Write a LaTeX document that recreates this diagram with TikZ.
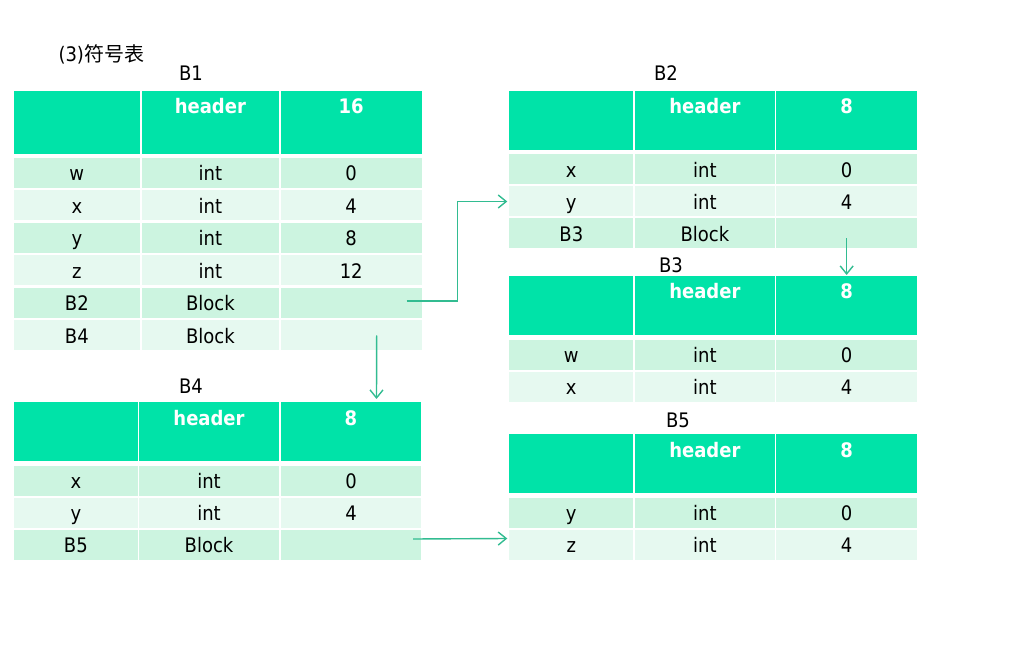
\documentclass[tikz,border=0pt]{standalone}
\usepackage{fontspec}
\setmainfont{DejaVu Sans Condensed}
\newfontfamily\cjk{Noto Sans CJK SC}
\usetikzlibrary{positioning,arrows.meta}

\definecolor{hdgreen}{RGB}{0,227,168}
\definecolor{rowdark}{RGB}{204,244,224}
\definecolor{rowlight}{RGB}{230,249,240}
\definecolor{linkgreen}{RGB}{50,188,145}

\tikzset{
  cell/.style={anchor=north west, inner sep=0pt, outer sep=0pt, minimum height=30pt,
    text height=16.5pt, text depth=1pt, font=\fontsize{20}{23}\selectfont},
  hd/.style={cell, fill=hdgreen, text=white, font=\fontsize{20}{23}\selectfont\bfseries,
    text height=23pt, text depth=36pt},
  tabname/.style={font=\fontsize{20}{23}\selectfont},
  link/.style={draw=linkgreen, line width=1.4pt, -{Straight Barb[length=8pt,width=13pt]}}
}

\begin{document}
\begin{tikzpicture}[x=1pt, y=-1pt]
        \useasboundingbox (0,0) rectangle (1010,660);
        \node[tabname, anchor=west] (title) at (55,54) {(3){\cjk 符号表}};

        % B1
        \node[tabname] (b1name) at (191,73) {B1};
        \node[hd, minimum width=125.7pt, text depth=40pt] (b1h1) at (14,91) {};
        \node[hd, minimum width=136.7pt, text depth=40pt, right=2.3pt of b1h1] (b1h2) {header};
        \node[hd, minimum width=141pt, text depth=40pt, right=2pt of b1h2] (b1h3) {16};
        \foreach \f/\a/\b/\c [count=\i] in {rowdark/w/int/0, rowlight/x/int/4, rowdark/y/int/8,
            rowlight/z/int/12, rowdark/B2/Block/{}, rowlight/B4/Block/{}} {
          \node[cell, fill=\f, minimum width=125.7pt] (b1-\i-1) at (14,{158+32.5*(\i-1)}) {\a};
          \node[cell, fill=\f, minimum width=136.7pt, right=2.3pt of b1-\i-1] (b1-\i-2) {\b};
          \node[cell, fill=\f, minimum width=141pt, right=2pt of b1-\i-2] (b1-\i-3) {\c};
        }

        % B4
        \node[tabname] (b4name) at (191,386) {B4};
        \node[hd, minimum width=123.7pt] (b4h1) at (14,402) {};
        \node[hd, minimum width=140pt, right=1.3pt of b4h1] (b4h2) {header};
        \node[hd, minimum width=140pt, right=2pt of b4h2] (b4h3) {8};
        \foreach \f/\a/\b/\c [count=\i] in {rowdark/x/int/0, rowlight/y/int/4, rowdark/B5/Block/{}} {
          \node[cell, fill=\f, minimum width=123.7pt] (b4-\i-1) at (14,{466+32*(\i-1)}) {\a};
          \node[cell, fill=\f, minimum width=140pt, right=1.3pt of b4-\i-1] (b4-\i-2) {\b};
          \node[cell, fill=\f, minimum width=140pt, right=2pt of b4-\i-2] (b4-\i-3) {\c};
        }

        % B2
        \node[tabname] (b2name) at (666,73) {B2};
        \node[hd, minimum width=124pt] (b2h1) at (509.3,91) {};
        \node[hd, minimum width=139.7pt, right=1.7pt of b2h1] (b2h2) {header};
        \node[hd, minimum width=141.3pt, right=1.3pt of b2h2] (b2h3) {8};
        \foreach \f/\a/\b/\c [count=\i] in {rowdark/x/int/0, rowlight/y/int/4, rowdark/B3/Block/{}} {
          \node[cell, fill=\f, minimum width=124pt] (b2-\i-1) at (509.3,{154.5+32*(\i-1)}) {\a};
          \node[cell, fill=\f, minimum width=139.7pt, right=1.7pt of b2-\i-1] (b2-\i-2) {\b};
          \node[cell, fill=\f, minimum width=141.3pt, right=1.3pt of b2-\i-2] (b2-\i-3) {\c};
        }

        % B3
        \node[tabname] (b3name) at (671,265) {B3};
        \node[hd, minimum width=124pt] (b3h1) at (509.3,276) {};
        \node[hd, minimum width=139.7pt, right=1.7pt of b3h1] (b3h2) {header};
        \node[hd, minimum width=141.3pt, right=1.3pt of b3h2] (b3h3) {8};
        \foreach \f/\a/\b/\c [count=\i] in {rowdark/w/int/0, rowlight/x/int/4} {
          \node[cell, fill=\f, minimum width=124pt] (b3-\i-1) at (509.3,{340+32*(\i-1)}) {\a};
          \node[cell, fill=\f, minimum width=139.7pt, right=1.7pt of b3-\i-1] (b3-\i-2) {\b};
          \node[cell, fill=\f, minimum width=141.3pt, right=1.3pt of b3-\i-2] (b3-\i-3) {\c};
        }

        % B5
        \node[tabname] (b5name) at (678,420) {B5};
        \node[hd, minimum width=124pt] (b5h1) at (509.3,434) {};
        \node[hd, minimum width=139.7pt, right=1.7pt of b5h1] (b5h2) {header};
        \node[hd, minimum width=141.3pt, right=1.3pt of b5h2] (b5h3) {8};
        \foreach \f/\a/\b/\c [count=\i] in {rowdark/y/int/0, rowlight/z/int/4} {
          \node[cell, fill=\f, minimum width=124pt] (b5-\i-1) at (509.3,{497.5+32*(\i-1)}) {\a};
          \node[cell, fill=\f, minimum width=139.7pt, right=1.7pt of b5-\i-1] (b5-\i-2) {\b};
          \node[cell, fill=\f, minimum width=141.3pt, right=1.3pt of b5-\i-2] (b5-\i-3) {\c};
        }

        % Links
        \draw[link] ([xshift=-15pt,yshift=2pt]b1-5-3.east) -- ++(51,0) |- ([xshift=-2pt]b2-2-1.west);
        \draw[link] ([yshift=-5pt]b2-3-3.center) -- ([yshift=1pt]b3h3.north);
        \draw[link] ([xshift=25.5pt]b1-6-3.center) -- ([xshift=25.5pt,yshift=3pt]b4h3.north);
        \draw[link] ([xshift=-8pt,yshift=6pt]b4-3-3.east) -- ([xshift=-2pt,yshift=6pt]b5-2-1.west);
    \end{tikzpicture}
\end{document}
